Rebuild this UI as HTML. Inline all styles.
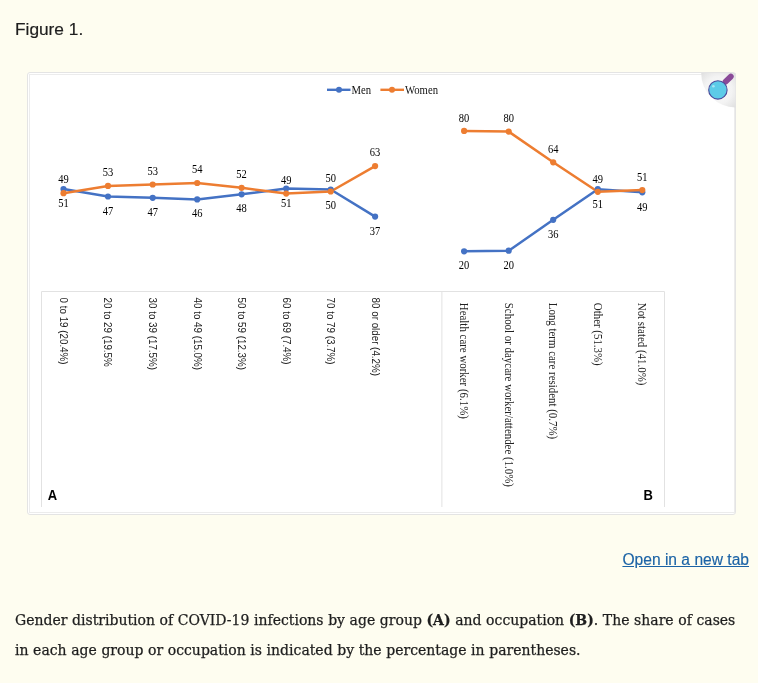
<!DOCTYPE html>
<html>
<head>
<meta charset="utf-8">
<style>
html,body{margin:0;padding:0;}
body{width:758px;height:683px;background:#fefdf0;position:relative;overflow:hidden;}
.fig-title{position:absolute;left:15px;top:17.2px;font:17.3px/24px "Liberation Sans",sans-serif;color:#1e1e1e;-webkit-text-stroke:0.2px #1e1e1e;margin:0;}
.box{position:absolute;left:27px;top:72px;width:707px;height:441px;border:1px solid #e4e4e4;border-radius:3px;background:#fff;}
.link{position:absolute;right:9px;top:550.2px;font:15.6px/20px "Liberation Sans",sans-serif;color:#1b63a6;text-decoration:underline;-webkit-text-stroke:0.15px #1b63a6;text-underline-offset:1px;}
.caption{position:absolute;left:15px;top:605.2px;word-spacing:0.15px;width:735px;font:14px/30px "DejaVu Serif",serif;color:#1e1e1e;-webkit-text-stroke:0.25px #1e1e1e;margin:0;}
.caption b{font-weight:bold;}
svg{position:absolute;left:0;top:0;}
</style>
</head>
<body>
<h3 class="fig-title" style="font-weight:normal">Figure 1.</h3>
<div class="box"></div>
<svg width="758" height="683" viewBox="0 0 758 683">
  <defs>
    <radialGradient id="cg" cx="0.5" cy="0.5" r="0.72">
      <stop offset="0" stop-color="#fafafa"/>
      <stop offset="0.55" stop-color="#f3f3f3"/>
      <stop offset="1" stop-color="#dedede"/>
    </radialGradient>
  </defs>
  <!-- image inner frame -->
  <rect x="29.5" y="74.5" width="705" height="438" fill="#fff" stroke="#ececec" stroke-width="1"/>
  <!-- axis label boxes -->
  <path d="M41.5 507 V291.5 H664.5 V507 M441.9 291.5 V507" fill="none" stroke="#e2e2e2" stroke-width="1"/>

  <!-- legend -->
  <g stroke-width="2.4" fill="none">
    <line x1="327" y1="89.8" x2="350.5" y2="89.8" stroke="#4472c4"/>
    <line x1="380.4" y1="89.8" x2="404" y2="89.8" stroke="#ed7d31"/>
  </g>
  <circle cx="339" cy="89.8" r="3" fill="#4472c4"/>
  <circle cx="392" cy="89.8" r="3" fill="#ed7d31"/>
  <g font-family="Liberation Serif, serif" font-size="10.7" fill="#111">
    <text transform="translate(351.5,93.7) scale(1,1.1)">Men</text>
    <text transform="translate(405,93.7) scale(1,1.1)">Women</text>
  </g>

  <!-- left panel lines -->
  <g fill="none" stroke-width="2.5" stroke-linejoin="round" stroke-linecap="round">
    <polyline stroke="#4472c4" points="63.5,189.1 108,196.5 152.7,197.8 197.2,199.4 241.6,194.3 286.2,188.5 330.7,189.5 375.1,216.6"/>
    <polyline stroke="#ed7d31" points="63.5,193.2 108,185.9 152.7,184.5 197.2,183.0 241.6,187.8 286.2,193.6 330.7,191.5 375.1,166.1"/>
    <polyline stroke="#4472c4" points="464.1,251.3 508.7,250.7 553.2,219.8 597.8,189.2 642.3,192.3"/>
    <polyline stroke="#ed7d31" points="464.1,130.9 508.7,131.6 553.2,162.3 597.8,191.8 642.3,190.1"/>
  </g>
  <g fill="#4472c4">
    <circle cx="63.5" cy="189.1" r="3.1"/><circle cx="108" cy="196.5" r="3.1"/><circle cx="152.7" cy="197.8" r="3.1"/><circle cx="197.2" cy="199.4" r="3.1"/>
    <circle cx="241.6" cy="194.3" r="3.1"/><circle cx="286.2" cy="188.5" r="3.1"/><circle cx="330.7" cy="189.5" r="3.1"/><circle cx="375.1" cy="216.6" r="3.1"/>
    <circle cx="464.1" cy="251.3" r="3.1"/><circle cx="508.7" cy="250.7" r="3.1"/><circle cx="553.2" cy="219.8" r="3.1"/><circle cx="597.8" cy="189.2" r="3.1"/><circle cx="642.3" cy="192.3" r="3.1"/>
  </g>
  <g fill="#ed7d31">
    <circle cx="63.5" cy="193.2" r="3.1"/><circle cx="108" cy="185.9" r="3.1"/><circle cx="152.7" cy="184.5" r="3.1"/><circle cx="197.2" cy="183.0" r="3.1"/>
    <circle cx="241.6" cy="187.8" r="3.1"/><circle cx="286.2" cy="193.6" r="3.1"/><circle cx="330.7" cy="191.5" r="3.1"/><circle cx="375.1" cy="166.1" r="3.1"/>
    <circle cx="464.1" cy="130.9" r="3.1"/><circle cx="508.7" cy="131.6" r="3.1"/><circle cx="553.2" cy="162.3" r="3.1"/><circle cx="597.8" cy="191.8" r="3.1"/><circle cx="642.3" cy="190.1" r="3.1"/>
  </g>

  <!-- data labels -->
  <g font-family="Liberation Serif, serif" font-size="10.5" fill="#000" text-anchor="middle">
    <text transform="translate(63.5,182.6) scale(1,1.1)">49</text>
    <text transform="translate(63.5,207.4) scale(1,1.1)">51</text>
    <text transform="translate(108,176.1) scale(1,1.1)">53</text>
    <text transform="translate(108,214.5) scale(1,1.1)">47</text>
    <text transform="translate(152.7,175.0) scale(1,1.1)">53</text>
    <text transform="translate(152.7,215.6) scale(1,1.1)">47</text>
    <text transform="translate(197.2,173.4) scale(1,1.1)">54</text>
    <text transform="translate(197.2,217.2) scale(1,1.1)">46</text>
    <text transform="translate(241.6,178.1) scale(1,1.1)">52</text>
    <text transform="translate(241.6,212.2) scale(1,1.1)">48</text>
    <text transform="translate(286.2,183.6) scale(1,1.1)">49</text>
    <text transform="translate(286.2,206.6) scale(1,1.1)">51</text>
    <text transform="translate(330.7,181.9) scale(1,1.1)">50</text>
    <text transform="translate(330.7,208.7) scale(1,1.1)">50</text>
    <text transform="translate(375.1,155.9) scale(1,1.1)">63</text>
    <text transform="translate(375.1,234.6) scale(1,1.1)">37</text>
    <text transform="translate(464.1,121.6) scale(1,1.1)">80</text>
    <text transform="translate(464.1,269.4) scale(1,1.1)">20</text>
    <text transform="translate(508.7,121.6) scale(1,1.1)">80</text>
    <text transform="translate(508.7,269.4) scale(1,1.1)">20</text>
    <text transform="translate(553.2,153.1) scale(1,1.1)">64</text>
    <text transform="translate(553.2,237.6) scale(1,1.1)">36</text>
    <text transform="translate(597.8,182.6) scale(1,1.1)">49</text>
    <text transform="translate(597.8,208.0) scale(1,1.1)">51</text>
    <text transform="translate(642.3,180.7) scale(1,1.1)">51</text>
    <text transform="translate(642.3,210.5) scale(1,1.1)">49</text>
  </g>

  <!-- left axis labels (rotated) -->
  <g font-family="Liberation Sans, sans-serif" font-size="9.8" fill="#222">
    <text transform="translate(59.9,297.6) scale(1.08,1) rotate(90)">0 to 19 (20.4%)</text>
    <text transform="translate(104.4,297.6) scale(1.08,1) rotate(90)">20 to 29 (19.5%</text>
    <text transform="translate(149.1,297.6) scale(1.08,1) rotate(90)">30 to 39 (17.5%)</text>
    <text transform="translate(193.6,297.6) scale(1.08,1) rotate(90)">40 to 49 (15.0%)</text>
    <text transform="translate(238,297.6) scale(1.08,1) rotate(90)">50 to 59 (12.3%)</text>
    <text transform="translate(282.6,297.6) scale(1.08,1) rotate(90)">60 to 69 (7.4%)</text>
    <text transform="translate(327.1,297.6) scale(1.08,1) rotate(90)">70 to 79 (3.7%)</text>
    <text transform="translate(371.5,297.6) scale(1.08,1) rotate(90)">80 or older (4.2%)</text>
  </g>
  <g font-family="Liberation Serif, serif" font-size="10.9" fill="#222">
    <text transform="translate(460.1,302.8) scale(1.12,1) rotate(90)">Health care worker (6.1%)</text>
    <text transform="translate(504.7,302.8) scale(1.12,1) rotate(90)">School or daycare worker/attendee (1.0%)</text>
    <text transform="translate(549.2,302.8) scale(1.12,1) rotate(90)">Long term care resident (0.7%)</text>
    <text transform="translate(593.8,302.8) scale(1.12,1) rotate(90)">Other (51.3%)</text>
    <text transform="translate(638.3,302.8) scale(1.12,1) rotate(90)">Not stated (41.0%)</text>
  </g>
  <g font-family="Liberation Sans, sans-serif" font-size="13" font-weight="bold" fill="#000">
    <text transform="translate(47.8,499.6) scale(1,1.1)">A</text>
    <text transform="translate(643.4,499.7) scale(1,1.1)">B</text>
  </g>

  <!-- magnifier corner -->
  <path d="M701.2 73 H735.5 V107.4 A34.3 34.3 0 0 1 701.2 73 Z" fill="url(#cg)"/>
  <line x1="725.6" y1="81.6" x2="730.8" y2="76.6" stroke="#8a4a98" stroke-width="5.8" stroke-linecap="round"/>
  <circle cx="717.9" cy="89.9" r="9.2" fill="#5ccbe8" stroke="#4b4a9c" stroke-width="1.1"/>
  <circle cx="713.4" cy="86.2" r="1.3" fill="#a8e4f4"/>
</svg>
<a class="link">Open in a new tab</a>
<p class="caption">Gender distribution of COVID-19 infections by age group <b>(A)</b> and occupation <b>(B)</b>. The share of cases in each age group or occupation is indicated by the percentage in parentheses.</p>
</body>
</html>
